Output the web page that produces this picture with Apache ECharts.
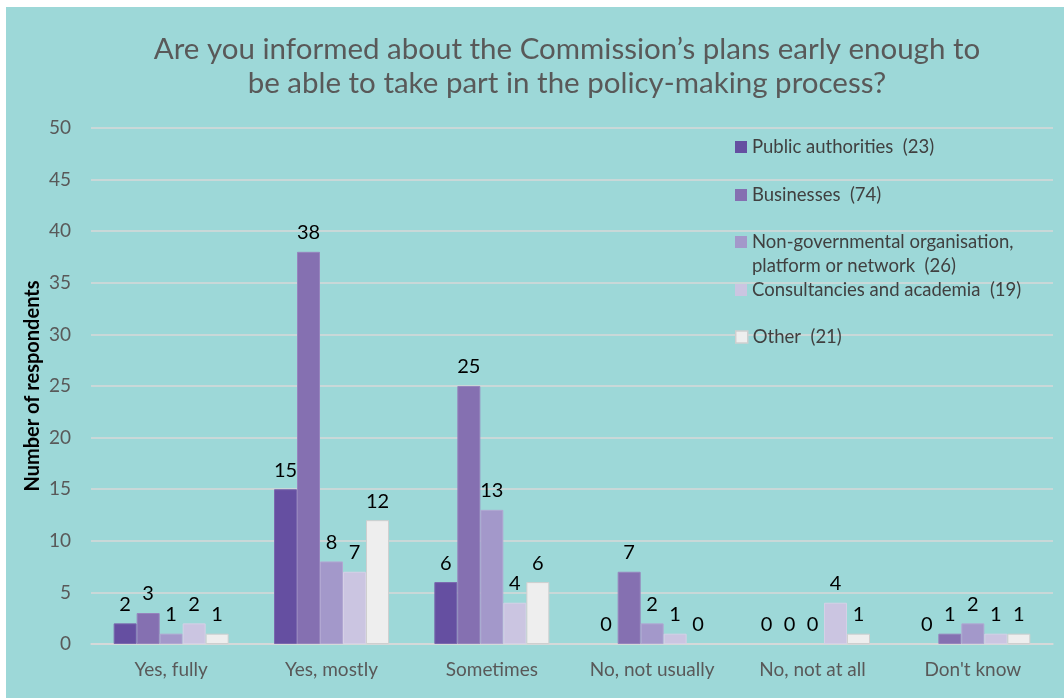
<!DOCTYPE html>
<html>
<head>
<meta charset="utf-8">
<script src="https://cdn.jsdelivr.net/npm/echarts@6/dist/echarts.min.js"></script>
<style>
html,body{margin:0;padding:0;background:#ffffff;width:1064px;height:698px;overflow:hidden;}
#chart{position:absolute;left:6px;top:7px;width:1058px;height:691px;background:#9dd8d8;}
</style>
</head>
<body>
<div id="chart"></div>
<script>
const categories = ['Yes, fully', 'Yes, mostly', 'Sometimes', 'No, not usually', 'No, not at all', "Don't know"];
const seriesNames = ['Public authorities  (23)', 'Businesses  (74)', 'Non-governmental organisation, platform or network  (26)', 'Consultancies and academia  (19)', 'Other  (21)'];
const publicAuthorities = [2, 15, 6, 0, 0, 0];
const businesses = [3, 38, 25, 7, 0, 1];
const ngo = [1, 8, 13, 2, 0, 2];
const consultancies = [2, 7, 4, 1, 4, 1];
const other = [1, 12, 6, 0, 1, 1];
const yTicks = { min: 0, max: 50, interval: 5 };

const values = [publicAuthorities, businesses, ngo, consultancies, other];
const colors = ['#654fa1', '#8570b1', '#a398ca', '#cbc5e1', '#eeeeee'];
const borders = ['#7a68ae', '#9684bd', '#b1a7d2', '#d5d0e6', '#cfcfcf'];
const FONT = 'Lato, "Open Sans", sans-serif';

const chart = echarts.init(document.getElementById('chart'));

const legendTops = [130, 178, 225, 273, 320];
const legends = seriesNames.map((n, i) => ({
  show: true,
  orient: 'vertical',
  left: 729,
  top: legendTops[i],
  padding: 0,
  itemWidth: 12,
  itemHeight: 12,
  icon: 'rect',
  data: [n],
  selectedMode: false,
  formatter: i === 2 ? () => 'Non-governmental organisation,' : undefined,
  textStyle: { color: '#404040', fontSize: 18.5, fontFamily: FONT, lineHeight: 20, padding: [0, 0, 0, 0] },
  itemStyle: { borderColor: borders[i], borderWidth: i === 4 ? 1.5 : 0 }
}));

chart.setOption({
  animation: false,
  title: {
    text: 'Are you informed about the Commission\u2019s plans early enough to\nbe able to take part in the policy-making process?',
    left: 556,
    textAlign: 'center',
    top: 20,
    textStyle: { color: '#595959', fontSize: 29.5, fontWeight: 'normal', fontFamily: FONT, lineHeight: 34 }
  },
  legend: legends,
  graphic: [{
    type: 'text',
    left: 746,
    top: 250,
    style: { text: 'platform or network  (26)', fill: '#404040', font: '18.5px ' + FONT }
  }],
  grid: { left: 85, right: 11, top: 121, bottom: 54, containLabel: false },
  xAxis: {
    type: 'category',
    data: categories,
    axisTick: { show: false },
    axisLine: { show: true, lineStyle: { color: '#d9d9d9', width: 1.5 } },
    axisLabel: { color: '#595959', fontSize: 19, fontFamily: FONT, margin: 16, interval: 0 }
  },
  yAxis: {
    type: 'value',
    min: yTicks.min,
    max: yTicks.max,
    interval: yTicks.interval,
    name: 'Number of respondents',
    nameLocation: 'middle',
    nameGap: 48,
    nameMoveOverlap: false,
    nameTextStyle: { color: '#000000', fontSize: 20, fontWeight: 'bold', fontFamily: FONT },
    axisLine: { show: false },
    axisTick: { show: false },
    axisLabel: { color: '#595959', fontSize: 19, fontFamily: FONT, margin: 20 },
    splitLine: { lineStyle: { color: '#d9d9d9', width: 1.5 } }
  },
  series: values.map((v, i) => ({
    name: seriesNames[i],
    type: 'bar',
    data: v.map(x => ({ value: x, itemStyle: x === 0 ? { borderWidth: 0 } : {} })),
    barWidth: 23,
    barGap: '0%',
    itemStyle: { color: colors[i], borderColor: borders[i], borderWidth: 1 },
    label: { show: true, position: 'top', distance: 9, color: '#000000', fontSize: 20, fontFamily: FONT }
  }))
});
</script>
</body>
</html>
